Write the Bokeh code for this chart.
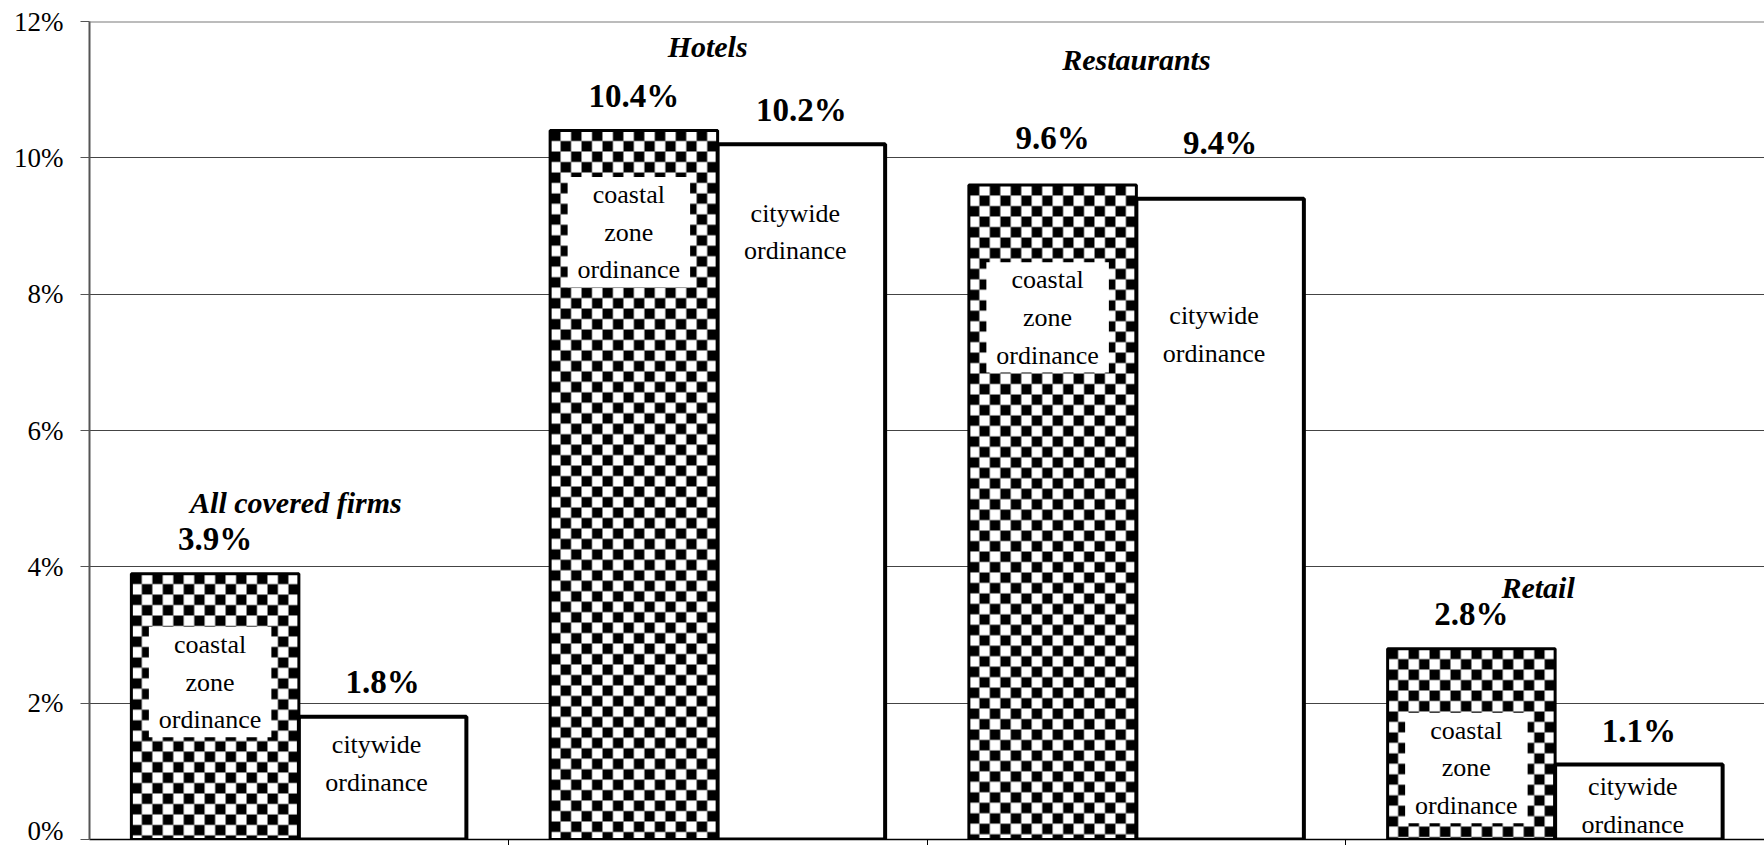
import numpy as np
from bokeh.plotting import figure
from bokeh.models import FixedTicker, PrintfTickFormatter, Range1d, Span
from bokeh.core.properties import value
from bokeh.embed import file_html
from bokeh.resources import INLINE

# ---- data ----
categories = ["All covered firms", "Hotels", "Restaurants", "Retail"]
coastal = [3.9, 10.4, 9.6, 2.8]
citywide = [1.8, 10.2, 9.4, 1.1]
y_ticks = [0, 2, 4, 6, 8, 10, 12]
coastal_text = "coastal\nzone\nordinance"
citywide_text = "citywide\nordinance"

# ---- label placement (layout) ----
cat_label_y = [4.95, 11.64, 11.44, 3.69]
cat_label_dx = [-3, -10, 0, -17]
coastal_label_dy = [-35, -35, -47, -35]
citywide_label_dy = [-35, -34, -56, -34]
coastal_text_y = [2.31, 8.91, 7.66, 1.05]
citywide_text_y = [1.11, 8.91, 7.41, 0.50]

FONT = "Liberation Serif"
W, H = 1764, 845
BORDER_L, BORDER_T, BORDER_B = 89, 21, 6
BAR_W = 0.4
CHECKS_ACROSS = 16

idx = np.arange(len(categories))
coastal_x = idx + 0.3
citywide_x = idx + 0.7
center_x = idx + 0.5

p = figure(width=W, height=H, x_range=Range1d(0, len(categories)),
           y_range=Range1d(0, 12), output_backend="svg", toolbar_location=None,
           min_border_left=BORDER_L, min_border_right=0, min_border_top=BORDER_T,
           min_border_bottom=0)
p.outline_line_color = None
p.background_fill_color = "white"
p.border_fill_color = "white"

# grid
p.xgrid.visible = False
p.ygrid.ticker = FixedTicker(ticks=y_ticks[:-1])
p.ygrid.grid_line_color = "#444444"
p.ygrid.grid_line_width = 1
p.add_layout(Span(location=y_ticks[-1], dimension="width",
                  line_color="#7a7a7a", line_width=2))

# y axis
p.yaxis.ticker = FixedTicker(ticks=y_ticks)
p.yaxis.formatter = PrintfTickFormatter(format="%d%%")
p.yaxis.major_label_text_font = FONT
p.yaxis.major_label_text_font_size = "27px"
p.yaxis.major_label_text_color = "black"
p.yaxis.major_tick_out = 9
p.yaxis.major_tick_in = 0
p.yaxis.minor_tick_line_color = None
p.yaxis.axis_line_color = "#555555"
p.yaxis.axis_line_width = 2
p.yaxis.major_tick_line_color = "#555555"
p.yaxis.major_label_standoff = 17

# x axis (category boundary ticks only, no labels)
p.xaxis.ticker = FixedTicker(ticks=list(range(1, len(categories))))
p.xaxis.major_label_text_font_size = "0px"
p.xaxis.major_label_text_color = None
p.xaxis.major_tick_out = BORDER_B
p.xaxis.major_tick_in = 0
p.xaxis.major_label_standoff = 0
p.xaxis.minor_tick_line_color = None
p.xaxis.axis_line_color = "black"
p.xaxis.axis_line_width = 1.5
p.xaxis.major_tick_line_color = "black"

# ---- checkerboard fill for the coastal bars (derived from bar values) ----
px_per_x = (W - BORDER_L) / len(categories)
px_per_y = (H - BORDER_T - BORDER_B) / 12.0
cell_w = BAR_W / CHECKS_ACROSS
cell_h = cell_w * px_per_x / px_per_y
cl, cr, cb, ct = [], [], [], []
for xc, top in zip(coastal_x, coastal):
    left0 = xc - BAR_W / 2
    nrows = int(np.ceil(top / cell_h))
    for r in range(nrows):
        t = top - r * cell_h
        b = max(top - (r + 1) * cell_h, 0.0)
        for c in range(CHECKS_ACROSS):
            if (r + c) % 2 == 0:
                cl.append(left0 + c * cell_w)
                cr.append(left0 + (c + 1) * cell_w)
                cb.append(b)
                ct.append(t)

p.vbar(x=coastal_x, top=coastal, width=BAR_W, bottom=0,
       fill_color="white", line_color=None)
p.quad(left=cl, right=cr, bottom=cb, top=ct, fill_color="black",
       line_color="#8a8a8a", line_width=0.8)
p.vbar(x=coastal_x, top=coastal, width=BAR_W, bottom=0,
       fill_color=None, line_color="black", line_width=3)
p.vbar(x=citywide_x, top=citywide, width=BAR_W, bottom=0,
       fill_color="white", line_color="black", line_width=4)

# value labels
p.text(x=coastal_x, y=coastal, text=[f"{v:.1f}%" for v in coastal],
       y_offset=coastal_label_dy,
       text_font=value(FONT), text_font_style="bold", text_font_size="33px",
       text_align="center", text_baseline="middle", text_color="black")
p.text(x=citywide_x, y=citywide, text=[f"{v:.1f}%" for v in citywide],
       y_offset=citywide_label_dy,
       text_font=value(FONT), text_font_style="bold", text_font_size="33px",
       text_align="center", text_baseline="middle", text_color="black")

# category labels
p.text(x=center_x, y=cat_label_y, text=categories, x_offset=cat_label_dx,
       text_font=value(FONT), text_font_style="bold italic", text_font_size="30px",
       text_align="center", text_baseline="middle", text_color="black")

# inner labels
p.text(x=coastal_x, y=coastal_text_y, text=[coastal_text] * len(categories),
       x_offset=-5, text_font=value(FONT), text_font_size="26px",
       text_align="center", text_baseline="middle", text_line_height=1.3,
       text_color="black", background_fill_color="white", padding=(10, 3))
p.text(x=citywide_x, y=citywide_text_y, text=[citywide_text] * len(categories),
       x_offset=-6, text_font=value(FONT), text_font_size="26px",
       text_align="center", text_baseline="middle", text_line_height=1.3,
       text_color="black")

open("out.html", "w").write(file_html(p, INLINE))
